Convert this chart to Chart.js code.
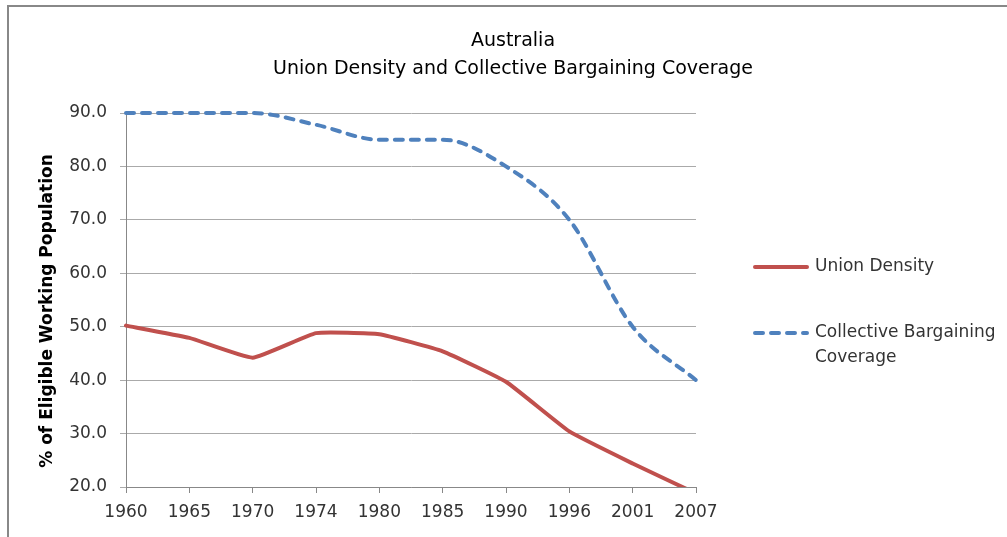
<!DOCTYPE html>
<html>
<head>
<meta charset="utf-8">
<script src="https://cdn.jsdelivr.net/npm/chart.js@4"></script>
<style>
html, body { margin: 0; padding: 0; background: #fff; }
#wrap { position: relative; width: 1007px; height: 537px; overflow: hidden; }
#marco { position: absolute; left: 7px; top: 5px; right: -4px; bottom: -4px; border-top: 2px solid #888; border-left: 2px solid #888; pointer-events: none; }
canvas { position: absolute; left: 0; top: 0; }
</style>
</head>
<body>
<div id="wrap">
    <canvas id="grafico" width="1007" height="537" style="width:1007px;height:537px"></canvas>
    <div id="marco"></div>
</div>
<script>
// Datos
const anios = ['1960', '1965', '1970', '1974', '1980', '1985', '1990', '1996', '2001', '2007'];
const densidadSindical = [50.2, 47.9, 44.2, 48.8, 48.6, 45.4, 39.7, 30.4, 24.4, 18.8];
const coberturaNegociacion = [90, 90, 90, 87.8, 85, 85, 80, 70, 50, 40];
const titulos = ['Australia', 'Union Density and Collective Bargaining Coverage'];
const tituloEjeY = '% of Eligible Working Population';
const nombresSeries = ['Union Density', ['Collective Bargaining', 'Coverage']];

const fuente = "'DejaVu Sans', sans-serif";
const colorTexto = '#333';

// Titulo en dos lineas y titulo del eje Y
const titulosPlugin = {
    id: 'titulosPlugin',
    afterDraw(chart) {
        const ctx = chart.ctx;
        ctx.save();
        ctx.fillStyle = '#000';
        ctx.font = "19px " + fuente;
        ctx.textAlign = 'center';
        ctx.textBaseline = 'middle';
        ctx.fillText(titulos[0], 513, 41);
        ctx.fillText(titulos[1], 513, 69);

        ctx.translate(48, 311);
        ctx.rotate(-Math.PI / 2);
        ctx.font = "bold 17px " + fuente;
        ctx.fillText(tituloEjeY, 0, 0);
        ctx.restore();
    }
};

// Leyenda a la derecha (con texto en varias lineas)
const leyendaPlugin = {
    id: 'leyendaPlugin',
    afterDraw(chart) {
        const ctx = chart.ctx;
        const filas = [267, 333];
        ctx.save();
        chart.data.datasets.forEach((ds, i) => {
            const y = filas[i];
            ctx.strokeStyle = ds.borderColor;
            ctx.lineWidth = ds.borderWidth;
            ctx.lineCap = ds.borderCapStyle || 'butt';
            ctx.setLineDash(ds.borderDash || []);
            ctx.beginPath();
            ctx.moveTo(755, y);
            ctx.lineTo(807, y);
            ctx.stroke();
            ctx.setLineDash([]);
            ctx.fillStyle = colorTexto;
            ctx.font = "17px " + fuente;
            ctx.textAlign = 'left';
            ctx.textBaseline = 'middle';
            const lineas = Array.isArray(nombresSeries[i]) ? nombresSeries[i] : [nombresSeries[i]];
            lineas.forEach((t, j) => ctx.fillText(t, 815, y + j * 25));
        });
        ctx.restore();
    }
};

new Chart(document.getElementById('grafico'), {
    type: 'line',
    data: {
        labels: anios,
        datasets: [
            {
                label: 'Union Density',
                data: densidadSindical,
                borderColor: '#c0504d',
                borderWidth: 4,
                borderCapStyle: 'round',
                borderJoinStyle: 'round',
                pointRadius: 0,
                tension: 0.12,
                clip: { left: 6, top: 6, right: 6, bottom: 0 }
            },
            {
                label: 'Collective Bargaining Coverage',
                data: coberturaNegociacion,
                borderColor: '#4f81bd',
                borderWidth: 4,
                borderDash: [8, 8],
                borderCapStyle: 'round',
                pointRadius: 0,
                cubicInterpolationMode: 'monotone',
                clip: { left: 6, top: 6, right: 6, bottom: 0 }
            }
        ]
    },
    options: {
        responsive: false,
        animation: false,
        layout: { padding: { top: 113, right: 311, bottom: 0, left: 0 } },
        plugins: {
            legend: { display: false },
            title: { display: false },
            tooltip: { enabled: false }
        },
        scales: {
            x: {
                offset: false,
                afterFit(scale) { scale.height = 50; },
                grid: { drawOnChartArea: false, drawTicks: true, tickLength: 6, color: '#888' },
                border: { color: '#888', width: 1 },
                ticks: { color: colorTexto, padding: 9, maxRotation: 0, autoSkip: false, font: { family: fuente, size: 17 } }
            },
            y: {
                min: 20,
                max: 90,
                afterFit(scale) { scale.width = 126; },
                grid: { color: '#aaa', tickLength: 6 },
                border: { color: '#888', width: 1 },
                ticks: {
                    stepSize: 10,
                    color: colorTexto,
                    padding: 13,
                    font: { family: fuente, size: 17 },
                    callback: v => v.toFixed(1)
                }
            }
        }
    },
    plugins: [titulosPlugin, leyendaPlugin]
});
</script>
</body>
</html>
